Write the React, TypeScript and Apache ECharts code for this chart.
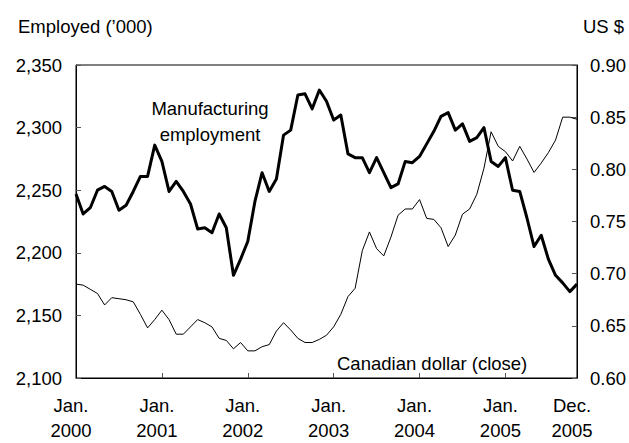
import React, { useEffect, useRef } from "react";
import * as echarts from "echarts";

// Monthly observations, Jan. 2000 onward (71 points)
const employment: number[] = [
  2247, 2231, 2236, 2250, 2253, 2249, 2234, 2238, 2249, 2261, 2261, 2286,
  2273, 2249, 2257, 2249, 2239, 2219, 2220, 2216, 2231, 2220, 2182, 2195,
  2209, 2241, 2264, 2249, 2259, 2294, 2298, 2326, 2327, 2315, 2330, 2321,
  2306, 2310, 2279, 2276, 2276, 2264, 2276, 2264, 2252, 2255, 2273, 2272,
  2277, 2287, 2297, 2309, 2312, 2298, 2303, 2289, 2292, 2300, 2273, 2269,
  2276, 2250, 2249, 2228, 2205, 2214, 2195, 2182, 2176, 2169, 2175,
];

const cadClose: number[] = [
  0.690, 0.689, 0.685, 0.681, 0.670, 0.677, 0.676, 0.675, 0.673, 0.661, 0.648, 0.656,
  0.665, 0.656, 0.642, 0.642, 0.649, 0.656, 0.653, 0.649, 0.638, 0.636, 0.628, 0.634,
  0.626, 0.626, 0.630, 0.632, 0.645, 0.653, 0.646, 0.638, 0.634, 0.634, 0.637, 0.641,
  0.649, 0.661, 0.678, 0.686, 0.722, 0.740, 0.724, 0.717, 0.735, 0.756, 0.762, 0.762,
  0.771, 0.753, 0.752, 0.744, 0.726, 0.737, 0.757, 0.762, 0.776, 0.801, 0.836, 0.822,
  0.817, 0.808, 0.822, 0.810, 0.797, 0.806, 0.816, 0.828, 0.850, 0.850, 0.848,
];

const categories: string[] = employment.map((_, i) => `m${i}`);

const tickLabelIndices: number[] = [0, 12, 24, 36, 48, 60, 70];
const tickLabels: string[] = [
  "Jan.\n2000",
  "Jan.\n2001",
  "Jan.\n2002",
  "Jan.\n2003",
  "Jan.\n2004",
  "Jan.\n2005",
  "Dec.\n2005",
];

const FONT = "'Liberation Sans', Arial, Helvetica, sans-serif";
const FS = 18.5;

export default function App() {
  const ref = useRef<HTMLDivElement>(null);

  useEffect(() => {
    if (!ref.current) return;
    const chart = echarts.init(ref.current, undefined, { renderer: "svg" });
    chart.setOption({
      animation: false,
      backgroundColor: "#fff",
      textStyle: { fontFamily: FONT, color: "#000" },
      grid: {
        left: 76,
        right: 51,
        top: 65,
        bottom: 60,
        show: true,
        borderColor: "#000",
        borderWidth: 1,
      },
      xAxis: {
        type: "category",
        data: categories,
        boundaryGap: false,
        axisLine: { show: true, lineStyle: { color: "#000", width: 1 } },
        axisTick: {
          show: true,
          inside: true,
          length: 5,
          lineStyle: { color: "#555" },
          interval: (i: number) => i > 0 && i % 12 === 0,
        },
        axisLabel: {
          interval: (i: number) => tickLabelIndices.indexOf(i) >= 0,
          formatter: (_v: string, i: number) => {
            const k = tickLabelIndices.indexOf(i);
            return k >= 0 ? tickLabels[k] : "";
          },
          fontFamily: FONT,
          fontSize: FS,
          color: "#000",
          lineHeight: 25,
          margin: 15,
          padding: [0, 10, 0, 0],
        },
        splitLine: { show: false },
      },
      yAxis: [
        {
          type: "value",
          min: 2100,
          max: 2350,
          interval: 50,
          position: "left",
          axisLine: { show: true, lineStyle: { color: "#000", width: 1 } },
          axisTick: { show: true, inside: true, length: 5, lineStyle: { color: "#555" } },
          axisLabel: {
            fontFamily: FONT,
            fontSize: FS,
            color: "#000",
            margin: 14,
            formatter: (v: number) => v.toLocaleString("en-US"),
          },
          splitLine: { show: false },
        },
        {
          type: "value",
          min: 0.6,
          max: 0.9,
          interval: 0.05,
          position: "right",
          axisLine: { show: true, lineStyle: { color: "#000", width: 1 } },
          axisTick: { show: true, inside: true, length: 5, lineStyle: { color: "#555" } },
          axisLabel: {
            fontFamily: FONT,
            fontSize: FS,
            color: "#000",
            margin: 13,
            formatter: (v: number) => v.toFixed(2),
          },
          splitLine: { show: false },
        },
      ],
      series: [
        {
          name: "Canadian dollar (close)",
          type: "line",
          yAxisIndex: 1,
          data: cadClose,
          showSymbol: false,
          symbol: "none",
          lineStyle: { color: "#000", width: 1 },
          z: 2,
        },
        {
          name: "Manufacturing employment",
          type: "line",
          yAxisIndex: 0,
          data: employment,
          showSymbol: false,
          symbol: "none",
          lineStyle: { color: "#000", width: 3, join: "round" },
          z: 3,
        },
      ],
      graphic: [
        {
          type: "text",
          x: 18,
          y: 26,
          style: {
            text: "Employed (\u2019000)",
            font: `${FS}px ${FONT}`,
            fill: "#000",
            textAlign: "left",
            textVerticalAlign: "middle",
          },
        },
        {
          type: "text",
          x: 583,
          y: 26,
          style: {
            text: "US $",
            font: `${FS}px ${FONT}`,
            fill: "#000",
            textAlign: "left",
            textVerticalAlign: "middle",
          },
        },
        {
          type: "text",
          x: 210,
          y: 108,
          style: {
            text: "Manufacturing",
            font: `${FS}px ${FONT}`,
            fill: "#000",
            textAlign: "center",
            textVerticalAlign: "middle",
          },
        },
        {
          type: "text",
          x: 210,
          y: 134,
          style: {
            text: "employment",
            font: `${FS}px ${FONT}`,
            fill: "#000",
            textAlign: "center",
            textVerticalAlign: "middle",
          },
        },
        {
          type: "text",
          x: 337,
          y: 363,
          style: {
            text: "Canadian dollar (close)",
            font: `${FS}px ${FONT}`,
            fill: "#000",
            textAlign: "left",
            textVerticalAlign: "middle",
          },
        },
      ],
    });
    return () => chart.dispose();
  }, []);

  return (
    <div
      ref={ref}
      style={{ position: "fixed", left: 0, top: 0, width: 629, height: 443, background: "#fff" }}
    />
  );
}
